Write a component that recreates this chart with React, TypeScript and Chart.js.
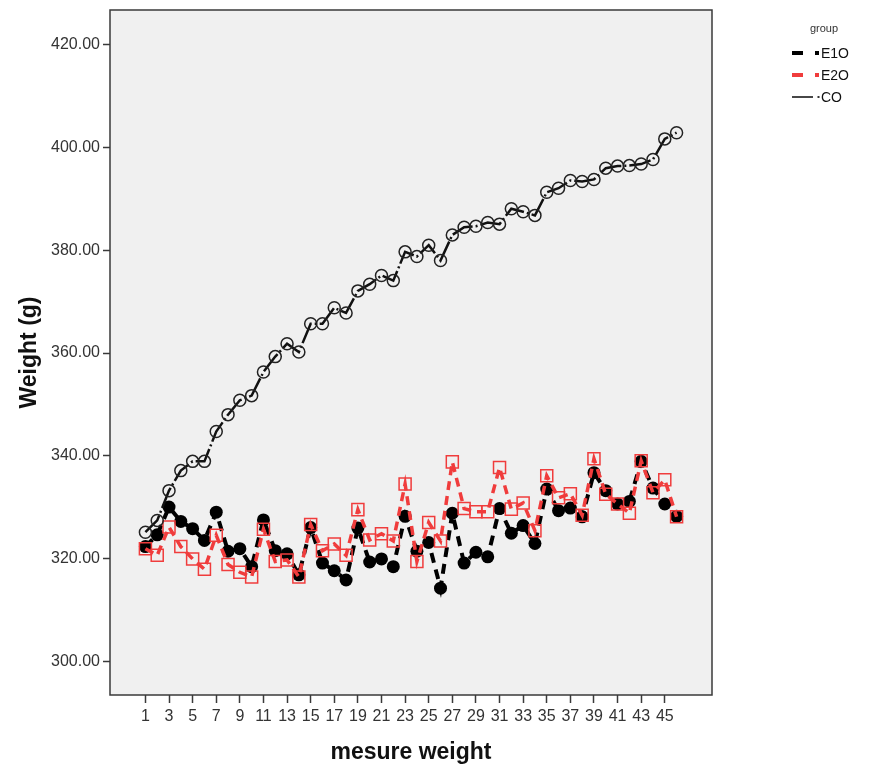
import { useEffect, useRef } from "react";
import { Chart, registerables } from "chart.js";

Chart.register(...registerables);

const measures = [1, 2, 3, 4, 5, 6, 7, 8, 9, 10, 11, 12, 13, 14, 15, 16, 17, 18, 19, 20, 21, 22, 23, 24, 25, 26, 27, 28, 29, 30, 31, 32, 33, 34, 35, 36, 37, 38, 39, 40, 41, 42, 43, 44, 45, 46];

const e1o = [322.3, 324.6, 330.0, 327.2, 325.8, 323.5, 329.0, 321.4, 321.9, 318.4, 327.5, 321.5, 320.9, 316.8, 326.0, 319.1, 317.6, 315.8, 325.9, 319.3, 319.9, 318.4, 328.2, 321.4, 323.1, 314.2, 328.8, 319.1, 321.2, 320.3, 329.7, 324.9, 326.4, 322.9, 333.5, 329.3, 329.8, 328.1, 336.7, 333.2, 330.6, 331.1, 338.9, 333.7, 330.6, 328.2];

const e2o = [321.9, 320.6, 326.1, 322.3, 319.9, 317.9, 324.5, 318.8, 317.3, 316.4, 325.7, 319.4, 319.7, 316.4, 326.6, 321.5, 322.8, 320.6, 329.5, 323.6, 324.8, 323.4, 334.5, 319.4, 327.0, 323.4, 338.8, 329.7, 329.1, 329.1, 337.7, 329.6, 330.8, 325.4, 336.1, 331.8, 332.6, 328.4, 339.4, 332.5, 330.6, 328.8, 339.0, 332.8, 335.3, 328.1];

const co = [325.1, 327.4, 333.2, 337.1, 338.9, 338.9, 344.7, 348.0, 350.8, 351.7, 356.3, 359.3, 361.8, 360.2, 365.7, 365.7, 368.8, 367.8, 372.1, 373.4, 375.1, 374.1, 379.7, 378.8, 381.0, 378.0, 383.0, 384.5, 384.7, 385.4, 385.1, 388.1, 387.5, 386.8, 391.3, 392.1, 393.6, 393.4, 393.8, 396.0, 396.4, 396.5, 396.8, 397.7, 401.7, 402.9];

const xTickValues = [1, 3, 5, 7, 9, 11, 13, 15, 17, 19, 21, 23, 25, 27, 29, 31, 33, 35, 37, 39, 41, 43, 45];
const yTickValues = [300, 320, 340, 360, 380, 400, 420];

const seriesNames = ["E1O", "E2O", "CO"];
const legendTitle = "group";
const xTitle = "mesure weight";
const yTitle = "Weight (g)";

const FONT = "'Liberation Sans', Arial, sans-serif";
const RED = "#f03c3c";
const AXIS = "#3a3a3a";

const toPoints = (vals: number[]) => measures.map((m, i) => ({ x: m, y: vals[i] }));

const framePlugin = {
  id: "frame",
  beforeDraw(chart: any) {
    const { ctx, chartArea: a } = chart;
    ctx.save();
    ctx.fillStyle = "#f0f0f0";
    ctx.fillRect(a.left, a.top, a.right - a.left, a.bottom - a.top);
    ctx.restore();
  },
  afterDraw(chart: any) {
    const { ctx, chartArea: a } = chart;
    ctx.save();
    ctx.strokeStyle = AXIS;
    ctx.lineWidth = 1.5;
    ctx.strokeRect(a.left, a.top, a.right - a.left, a.bottom - a.top);

    // legend
    ctx.fillStyle = "#333";
    ctx.font = `11px ${FONT}`;
    ctx.textAlign = "center";
    ctx.textBaseline = "middle";
    ctx.fillText(legendTitle, 824, 29);

    const rows = [
      { name: seriesNames[0], color: "#000", y: 53, thick: true },
      { name: seriesNames[1], color: RED, y: 75, thick: true },
      { name: seriesNames[2], color: "#333", y: 97, thick: false },
    ];
    rows.forEach((r) => {
      ctx.strokeStyle = r.color;
      ctx.fillStyle = r.color;
      if (r.thick) {
        ctx.lineWidth = 4;
        ctx.beginPath();
        ctx.moveTo(792, r.y);
        ctx.lineTo(803, r.y);
        ctx.stroke();
        ctx.fillRect(815, r.y - 2, 4, 4);
      } else {
        ctx.lineWidth = 1.8;
        ctx.beginPath();
        ctx.moveTo(792, r.y);
        ctx.lineTo(813, r.y);
        ctx.stroke();
        ctx.fillRect(817.5, r.y - 1, 2, 2);
      }
      ctx.fillStyle = "#111";
      ctx.font = `14px ${FONT}`;
      ctx.textAlign = "left";
      ctx.fillText(r.name, 821, r.y + 1);
    });
    ctx.restore();
  },
};

export default function App() {
  const ref = useRef<HTMLCanvasElement | null>(null);

  useEffect(() => {
    if (!ref.current) return;
    const chart = new Chart(ref.current, {
      type: "line",
      data: {
        datasets: [
          {
            label: seriesNames[2],
            data: toPoints(co),
            order: 0,
            borderColor: "#111",
            borderWidth: 2.5,
            borderDash: [22, 3, 2, 3],
            pointStyle: "circle",
            pointRadius: 6,
            pointBorderWidth: 1.5,
            pointBorderColor: "#222",
            pointBackgroundColor: "rgba(0,0,0,0)",
            tension: 0,
            fill: false,
          },
          {
            label: seriesNames[1],
            data: toPoints(e2o),
            order: 1,
            borderColor: RED,
            borderWidth: 3.5,
            borderDash: [9, 6],
            pointStyle: "rect",
            pointRadius: 8.5,
            pointBorderWidth: 1.5,
            pointBorderColor: RED,
            pointBackgroundColor: "rgba(0,0,0,0)",
            tension: 0,
            fill: false,
          },
          {
            label: seriesNames[0],
            data: toPoints(e1o),
            order: 2,
            borderColor: "#000",
            borderWidth: 4,
            borderDash: [10, 7],
            pointStyle: "circle",
            pointRadius: 6.5,
            pointBorderWidth: 0,
            pointBackgroundColor: "#000",
            tension: 0,
            fill: false,
          },
        ],
      },
      options: {
        responsive: false,
        animation: false,
        devicePixelRatio: 1,
        layout: { padding: { left: 0, top: 10, right: 158, bottom: 0 } },
        plugins: {
          legend: { display: false },
          tooltip: { enabled: false },
        },
        scales: {
          x: {
            type: "linear",
            min: -2,
            max: 49,
            afterBuildTicks: (s: any) => {
              s.ticks = xTickValues.map((v) => ({ value: v }));
            },
            afterFit: (s: any) => {
              s.height = 73;
              s.paddingLeft = 0;
              s.paddingRight = 0;
            },
            ticks: {
              autoSkip: false,
              maxRotation: 0,
              padding: 4,
              color: "#333",
              font: { family: FONT, size: 16 },
              callback: (v: any) => String(v),
            },
            grid: {
              drawOnChartArea: false,
              drawTicks: true,
              tickLength: 8,
              tickColor: AXIS,
              tickWidth: 1.5,
            },
            border: { display: false },
            title: {
              display: true,
              text: xTitle,
              color: "#111",
              font: { family: FONT, size: 23, weight: "bold" },
              padding: { top: 0, bottom: 2 },
            },
          },
          y: {
            type: "linear",
            min: 293.4,
            max: 426.8,
            afterBuildTicks: (s: any) => {
              s.ticks = yTickValues.map((v) => ({ value: v }));
            },
            afterFit: (s: any) => {
              s.width = 110;
              s.paddingTop = 0;
              s.paddingBottom = 0;
            },
            ticks: {
              padding: 3,
              color: "#333",
              font: { family: FONT, size: 16 },
              callback: (v: any) => Number(v).toFixed(2),
            },
            grid: {
              drawOnChartArea: false,
              drawTicks: true,
              tickLength: 7,
              tickColor: AXIS,
              tickWidth: 1.5,
            },
            border: { display: false },
            title: {
              display: true,
              text: yTitle,
              color: "#111",
              font: { family: FONT, size: 23, weight: "bold" },
              padding: { top: 16, bottom: 0 },
            },
          },
        },
      },
      plugins: [framePlugin],
    } as any);
    return () => chart.destroy();
  }, []);

  return (
    <div style={{ position: "fixed", left: 0, top: 0, width: 870, height: 768, background: "#fff" }}>
      <canvas ref={ref} width={870} height={768} style={{ display: "block" }} />
    </div>
  );
}
